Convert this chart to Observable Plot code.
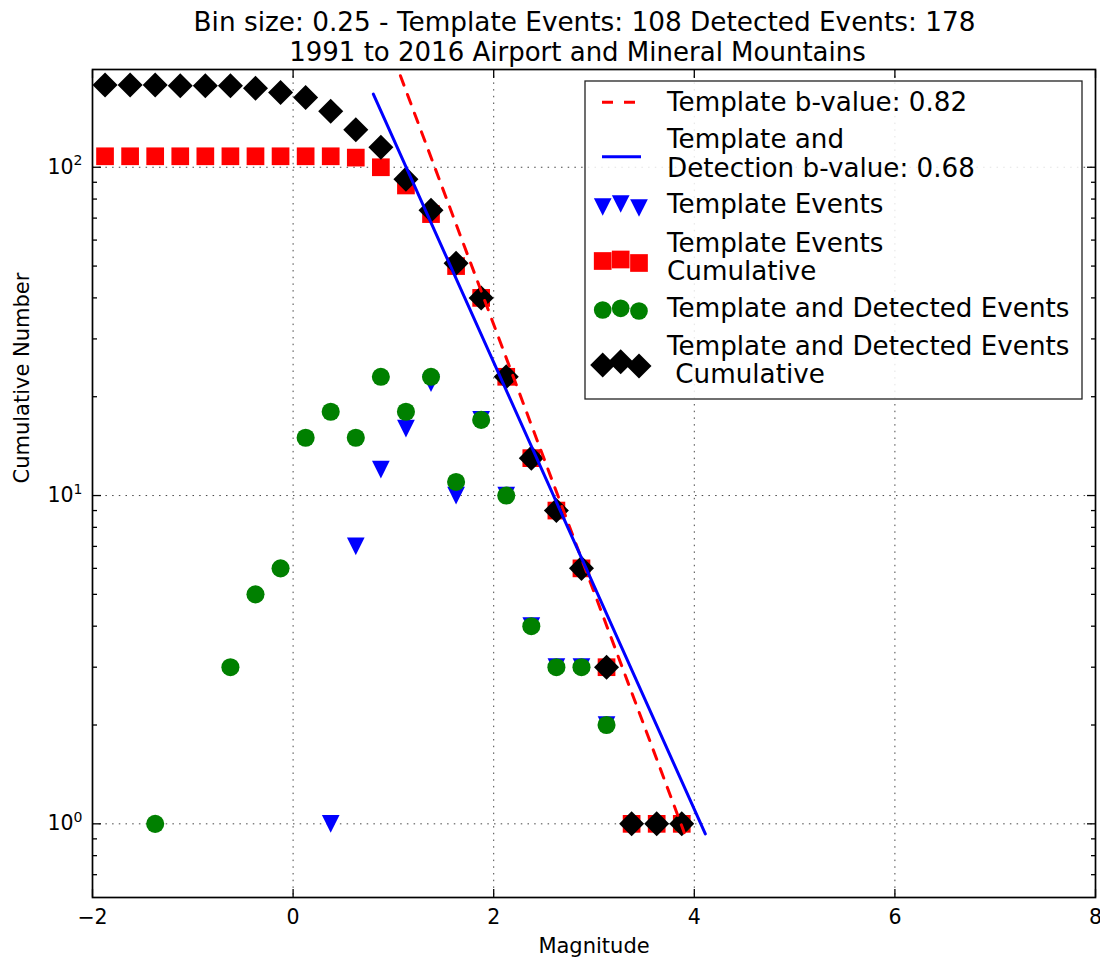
<!DOCTYPE html>
<html>
<head>
<meta charset="utf-8">
<script src="https://cdn.jsdelivr.net/npm/d3@7"></script>
<script src="https://cdn.jsdelivr.net/npm/@observablehq/plot@0.6"></script>
<style>
  html, body { margin: 0; padding: 0; background: #fff; }
  #chart { width: 1100px; height: 960px; }
</style>
</head>
<body>
<div id="chart"></div>
<script>
// ---------------- data ----------------
const magnitudes = [-1.875, -1.625, -1.375, -1.125, -0.875, -0.625, -0.375, -0.125, 0.125, 0.375, 0.625, 0.875,
                    1.125, 1.375, 1.625, 1.875, 2.125, 2.375, 2.625, 2.875, 3.125, 3.375, 3.625, 3.875];
const templateEvents     = [0, 0, 0, 0, 0, 0, 0, 0, 0, 1, 7, 12, 16, 22, 10, 17, 10, 4, 3, 3, 2, 0, 0, 1];
const templateCumulative = [108, 108, 108, 108, 108, 108, 108, 108, 108, 108, 107, 100, 88, 72, 50, 40, 23, 13, 9, 6, 3, 1, 1, 1];
const detectedEvents     = [0, 0, 1, 0, 0, 3, 5, 6, 15, 18, 15, 23, 18, 23, 11, 17, 10, 4, 3, 3, 2, 0, 0, 1];
const detectedCumulative = [178, 178, 178, 177, 177, 177, 174, 169, 163, 148, 130, 115, 92, 74, 51, 40, 23, 13, 9, 6, 3, 1, 1, 1];

const templateFitMag = [1.07, 3.9];
const templateFitN   = [190, 0.94];
const combinedFitMag = [0.8, 4.11];
const combinedFitN   = [167, 0.932];

const xTicks = [-2, 0, 2, 4, 6, 8];
const yMajorTicks = [1, 10, 100];
const yMinorTicks = [0.7, 0.8, 0.9, 2, 3, 4, 5, 6, 7, 8, 9, 20, 30, 40, 50, 60, 70, 80, 90];

const titleLine1 = "Bin size: 0.25 - Template Events: 108 Detected Events: 178";
const titleLine2 = "1991 to 2016 Airport and Mineral Mountains";
const xLabel = "Magnitude";
const yLabel = "Cumulative Number";
const legendLabels = [
  "Template b-value: 0.82",
  "Template and\nDetection b-value: 0.68",
  "Template Events",
  "Template Events\nCumulative",
  "Template and Detected Events",
  "Template and Detected Events\n Cumulative"
];

// ---------------- tables ----------------
const rows = magnitudes.map((m, i) => ({
  m, te: templateEvents[i], tc: templateCumulative[i], de: detectedEvents[i], dc: detectedCumulative[i]
}));
const templateFit = templateFitMag.map((m, i) => ({m, n: templateFitN[i]}));
const combinedFit = combinedFitMag.map((m, i) => ({m, n: combinedFitN[i]}));

// ---------------- symbols ----------------
const sym = (fn) => ({ draw(ctx, size) { const r = Math.sqrt(size / Math.PI); fn(ctx, r); } });
const drawTri = (c, r) => { c.moveTo(-r, -r); c.lineTo(r, -r); c.lineTo(0, r); c.closePath(); };
const drawSq = (c, r) => { c.moveTo(-r, -r); c.lineTo(r, -r); c.lineTo(r, r); c.lineTo(-r, r); c.closePath(); };
const drawDia = (c, r) => { const d = r * Math.SQRT2; c.moveTo(0, -d); c.lineTo(d, 0); c.lineTo(0, d); c.lineTo(-d, 0); c.closePath(); };
const drawCirc = (c, r) => { c.moveTo(r, 0); c.arc(0, 0, r, 0, 2 * Math.PI); c.closePath(); };
const triDown = sym(drawTri), square = sym(drawSq), diamond = sym(drawDia);
const MR = 8.85;

const gridStyle = {stroke: "#333", strokeWidth: 1, strokeDasharray: "1.5,5.2", strokeOpacity: 0.9};
const FONT = "DejaVu Sans";

const plot = Plot.plot({
  width: 1100,
  height: 960,
  marginLeft: 92,
  marginRight: 5,
  marginTop: 69,
  marginBottom: 63,
  style: {fontFamily: FONT, fontSize: "20px", background: "white", color: "black", overflow: "visible"},
  x: {domain: [-2, 8], label: null},
  y: {type: "log", domain: [0.5965, 198.5], label: null},
  marks: [
    Plot.gridX(xTicks, gridStyle),
    Plot.gridY(yMajorTicks, gridStyle),
    Plot.dot(rows.filter(d => d.te > 0), {x: "m", y: "te", symbol: triDown, r: MR, fill: "#0000ff", stroke: "none"}),
    Plot.dot(rows.filter(d => d.tc > 0), {x: "m", y: "tc", symbol: square, r: MR, fill: "#ff0000", stroke: "none"}),
    Plot.dot(rows.filter(d => d.de > 0), {x: "m", y: "de", symbol: "circle", r: MR + 0.2, fill: "#008000", stroke: "none"}),
    Plot.dot(rows.filter(d => d.dc > 0), {x: "m", y: "dc", symbol: diamond, r: MR, fill: "#000000", stroke: "none"}),
    Plot.line(templateFit, {x: "m", y: "n", stroke: "#ff0000", strokeWidth: 3, strokeDasharray: "10,10"}),
    Plot.line(combinedFit, {x: "m", y: "n", stroke: "#0000ff", strokeWidth: 3}),
    // axes: labels
    Plot.axisX(xTicks, {anchor: "bottom", tickSize: 0, tickPadding: 12, fontSize: 20.5, label: null,
      tickFormat: d => d3.format("d")(d)}),
    Plot.axisY(yMajorTicks, {anchor: "left", tickSize: 0, tickPadding: 10, fontSize: 20.5, label: null,
      tickFormat: d => String(Math.round(Math.log10(d)))}),
    // inward ticks, all four sides
    Plot.axisX(xTicks, {anchor: "bottom", tickSize: -8, fill: "none", strokeWidth: 1.3, label: null}),
    Plot.axisX(xTicks, {anchor: "top", tickSize: -8, fill: "none", strokeWidth: 1.3, label: null}),
    Plot.axisY(yMajorTicks, {anchor: "left", tickSize: -9, fill: "none", strokeWidth: 1.3, label: null}),
    Plot.axisY(yMinorTicks, {anchor: "left", tickSize: -5, fill: "none", strokeWidth: 1.3, label: null}),
    Plot.axisY(yMajorTicks, {anchor: "right", tickSize: -9, fill: "none", strokeWidth: 1.3, label: null}),
    Plot.axisY(yMinorTicks, {anchor: "right", tickSize: -5, fill: "none", strokeWidth: 1.3, label: null}),
    Plot.frame({stroke: "black", strokeWidth: 1.7}),
    // axis titles
    Plot.text([xLabel], {text: d => d, frameAnchor: "bottom", lineAnchor: "bottom", dy: 55, fontSize: 21}),
    Plot.text([yLabel], {text: d => d, frameAnchor: "left", lineAnchor: "bottom", rotate: -90, dx: -63.7, fontSize: 21}),
    // title
    Plot.text([titleLine1], {text: d => d, frameAnchor: "top", lineAnchor: "bottom", dx: -9.5, dy: -38.3, fontSize: 26.3}),
    Plot.text([titleLine2], {text: d => d, frameAnchor: "top", lineAnchor: "bottom", dx: -16.5, dy: -9, fontSize: 26})
  ]
});

document.getElementById("chart").appendChild(plot);

const svg = d3.select(plot);
// make sure tick labels get their size
svg.selectAll('g[aria-label="x-axis tick label"], g[aria-label="y-axis tick label"]').attr("font-size", "20.5px");

// superscript exponents on y tick labels
svg.selectAll('g[aria-label="y-axis tick label"] text').each(function () {
  const t = d3.select(this);
  const e = t.text();
  t.text(null);
  t.append("tspan").text("10");
  t.append("tspan").attr("dy", "-8.5").attr("font-size", "14px").text(e);
});

// ---------------- legend (matplotlib style, upper right) ----------------
const lg = svg.append("g").attr("font-family", FONT).attr("font-size", "26.2px").attr("text-anchor", "start");
lg.append("rect").attr("x", 585).attr("y", 81).attr("width", 497).attr("height", 318)
  .attr("fill", "white").attr("fill-opacity", 0.85).attr("stroke", "#222").attr("stroke-width", 1.3);

const textX = 667;
const textBaselines = [[110.7], [148.3, 176.7], [213.3], [251.7, 280], [316.7], [355, 383.3]];
legendLabels.forEach((lab, i) => {
  const lines = lab.split("\n");
  const t = lg.append("text").attr("fill", "black").attr("text-anchor", "start").attr("xml:space", "preserve");
  lines.forEach((ln, j) => {
    t.append("tspan").attr("x", textX).attr("y", textBaselines[i][j]).text(ln);
  });
});

// line handles
lg.append("line").attr("x1", 602).attr("x2", 641).attr("y1", 102.3).attr("y2", 102.3)
  .attr("stroke", "#ff0000").attr("stroke-width", 3).attr("stroke-dasharray", "11,11");
lg.append("line").attr("x1", 602).attr("x2", 641).attr("y1", 156.7).attr("y2", 156.7)
  .attr("stroke", "#0000ff").attr("stroke-width", 3);

// marker handles
const hx = [602.7, 620.7, 639];
const handleRows = [
  {fn: drawTri, fill: "#0000ff", ys: [207, 204, 208]},
  {fn: drawSq, fill: "#ff0000", ys: [261, 259.5, 263]},
  {fn: drawCirc, fill: "#008000", ys: [310, 308.3, 311]},
  {fn: drawDia, fill: "#000000", ys: [365, 361.7, 366]}
];
handleRows.forEach(hr => {
  hr.ys.forEach((y, k) => {
    const p = d3.path();
    hr.fn(p, MR);
    lg.append("path").attr("d", p.toString()).attr("transform", `translate(${hx[k]},${y})`).attr("fill", hr.fill);
  });
});
</script>
</body>
</html>
